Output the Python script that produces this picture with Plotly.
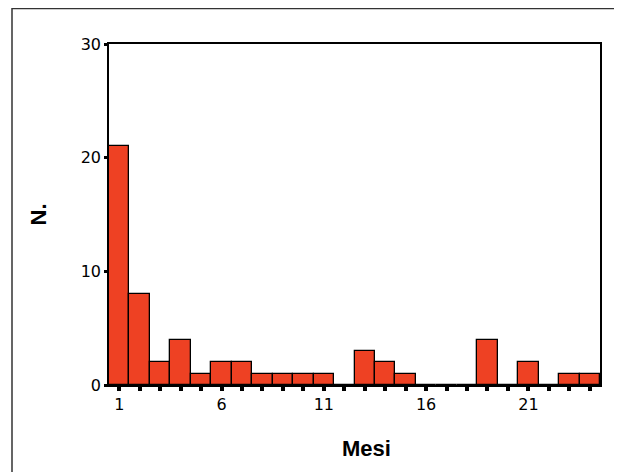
import plotly.graph_objects as go

months = list(range(1, 25))
counts = [21, 8, 2, 4, 1, 2, 2, 1, 1, 1, 1, 0, 3, 2, 1, 0, 0, 0, 4, 0, 2, 0, 1, 1]
x_tick_vals = list(range(1, 25))
x_tick_text = [str(m) if (m - 1) % 5 == 0 else "" for m in x_tick_vals]
y_tick_vals = [0, 10, 20, 30]

# page body has an 8px margin, so margins are offset to land the plot where the reference has it
ML, MR, MT, MB = 101, 30, 36, 95
W, H = 622, 472
pw, ph = W - ML - MR, H - MT - MB
fx0 = (4 - ML) / pw
fy1 = 1 + (MT - 0.5) / ph

fig = go.Figure()
fig.add_trace(go.Bar(
    x=months, y=counts,
    marker=dict(color="#EE4123", line=dict(color="black", width=1.3)),
    width=1.0,
))

fig.update_layout(
    width=W, height=H,
    paper_bgcolor="white", plot_bgcolor="white",
    margin=dict(l=ML, r=MR, t=MT, b=MB),
    bargap=0,
    showlegend=False,
    font=dict(family="Liberation Sans, Arial, sans-serif", color="black"),
    shapes=[dict(
        type="path", xref="paper", yref="paper",
        path=f"M {fx0},-0.4 L {fx0},{fy1} L 1.3,{fy1}",
        line=dict(color="#333333", width=1.5),
    )],
    annotations=[dict(
        text="<b>Mesi</b>", xref="paper", yref="paper",
        x=(366 - 8 - ML) / pw, y=-(448 - 8 - MT - ph) / ph,
        xanchor="center", yanchor="middle", showarrow=False,
        font=dict(size=22, family="Liberation Sans, Arial, sans-serif"),
    )],
)
fig.update_xaxes(
    range=[0.5, 24.5],
    tickmode="array", tickvals=x_tick_vals, ticktext=x_tick_text,
    ticks="outside", ticklen=4, tickwidth=4, tickcolor="black",
    tickfont=dict(size=16, family="DejaVu Sans, sans-serif"),
    showline=True, linecolor="black", linewidth=1.5, mirror=True,
    showgrid=False, zeroline=False,
)
fig.update_yaxes(
    range=[0, 30],
    tickmode="array", tickvals=y_tick_vals,
    ticks="outside", ticklen=3, tickwidth=3, tickcolor="black",
    tickfont=dict(size=16, family="DejaVu Sans, sans-serif"),
    showline=True, linecolor="black", linewidth=1.5, mirror=True,
    showgrid=False, zeroline=False,
    title=dict(text="<b>N.</b>", font=dict(size=22), standoff=28),
)

fig.write_html("out.html")
